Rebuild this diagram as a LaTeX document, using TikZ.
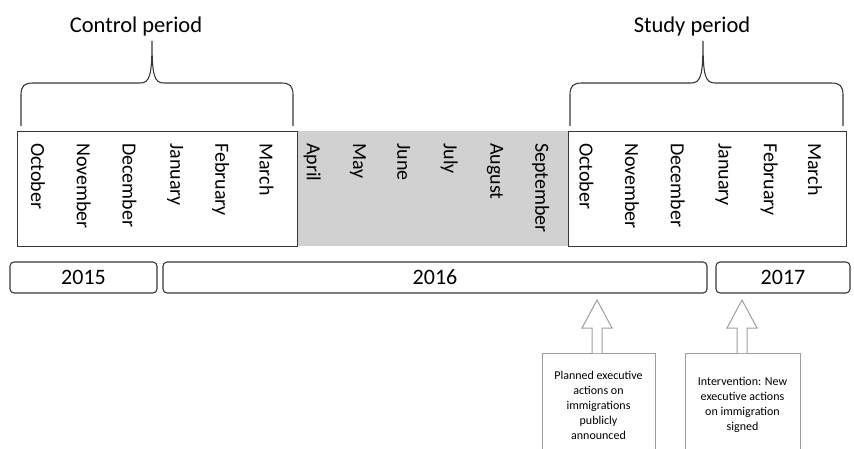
\documentclass[tikz,border=0pt]{standalone}
\usepackage{fontspec}
\setmainfont{Carlito}
\usetikzlibrary{positioning, calc}
\colorlet{framecol}{black!78}
\colorlet{notecol}{black!38}
\colorlet{gapfill}{black!18}
\tikzset{
  month/.style={rotate=-90, anchor=west, inner sep=0pt, font=\fontsize{20}{24}\selectfont},
  periodbox/.style={draw=framecol, line width=1.1pt, anchor=north west, inner sep=0pt},
  periodlabel/.style={inner sep=0pt, font=\fontsize{22.5}{27}\selectfont},
  yearbox/.style={draw=framecol, line width=1.1pt, rounded corners=4pt, minimum height=31pt, inner sep=0pt, font=\fontsize{22}{26}\selectfont},
  brace/.style={draw=framecol, line width=1.1pt},
  notetext/.style={align=center, inner sep=0pt, font=\fontsize{12}{15}\selectfont},
  noteframe/.style={draw=notecol, line width=1pt},
  blockarrow/.style={draw=notecol, fill=white, line width=1pt, line join=miter}
}

\begin{document}
\begin{tikzpicture}[x=1pt, y=-1pt]
\useasboundingbox (0,0) rectangle (854,449);

% Gap between the periods
\fill[gapfill] (297,131) rectangle (568,246);

% Period frames
\node[periodbox, minimum width=280pt, minimum height=115pt] (ctrlbox) at (17,131) {};
\node[periodbox, minimum width=278pt, minimum height=115pt] (studybox) at (568,131) {};

% Months
\foreach \m [count=\i from 0] in {October, November, December, January, February, March,
    April, May, June, July, August, September,
    October, November, December, January, February, March}
  \node[month] (m\i) at ({38+45.7*\i},143) {\m};

% Braces and labels
\draw[brace] (21,126) -- (21,95) .. controls (21,86) and (24,83) .. (33,83) -- (140,83)
  .. controls (150,83) and (152,75) .. (152,41)
  .. controls (152,75) and (154,83) .. (164,83) -- (281,83)
  .. controls (290,83) and (293,86) .. (293,95) -- (293,126);
\node[periodlabel] (ctrllabel) at (136,27) {Control period};

\draw[brace] (570,126) -- (570,95) .. controls (570,86) and (573,83) .. (582,83) -- (691,83)
  .. controls (701,83) and (703,75) .. (703,41)
  .. controls (703,75) and (705,83) .. (715,83) -- (831,83)
  .. controls (840,83) and (843,86) .. (843,95) -- (843,126);
\node[periodlabel] (studylabel) at (692,27) {Study period};

% Years
\node[yearbox, minimum width=147pt] (y2015) at (83.5,277.5) {2015};
\node[yearbox, minimum width=544pt] (y2016) at (435,277.5) {2016};
\node[yearbox, minimum width=134pt] (y2017) at (783,277.5) {2017};

% Events
\node[notetext] (announce) at (598.5,405) {Planned executive\\actions on\\immigrations\\publicly\\announced};
\draw[noteframe] (542,449) -- (542,353) -- (655,353) -- (655,449);
\draw[blockarrow] (592,353) -- (592,328) -- (582,328) -- (597,300) -- (612,328) -- (602,328) -- (602,353);

\node[notetext] (signed) at (742.5,405) {Intervention: New\\executive actions\\on immigration\\signed};
\draw[noteframe] (685,449) -- (685,353) -- (800,353) -- (800,449);
\draw[blockarrow] (737,353) -- (737,328) -- (727,328) -- (742,300) -- (757,328) -- (747,328) -- (747,353);

\end{tikzpicture}
\end{document}
